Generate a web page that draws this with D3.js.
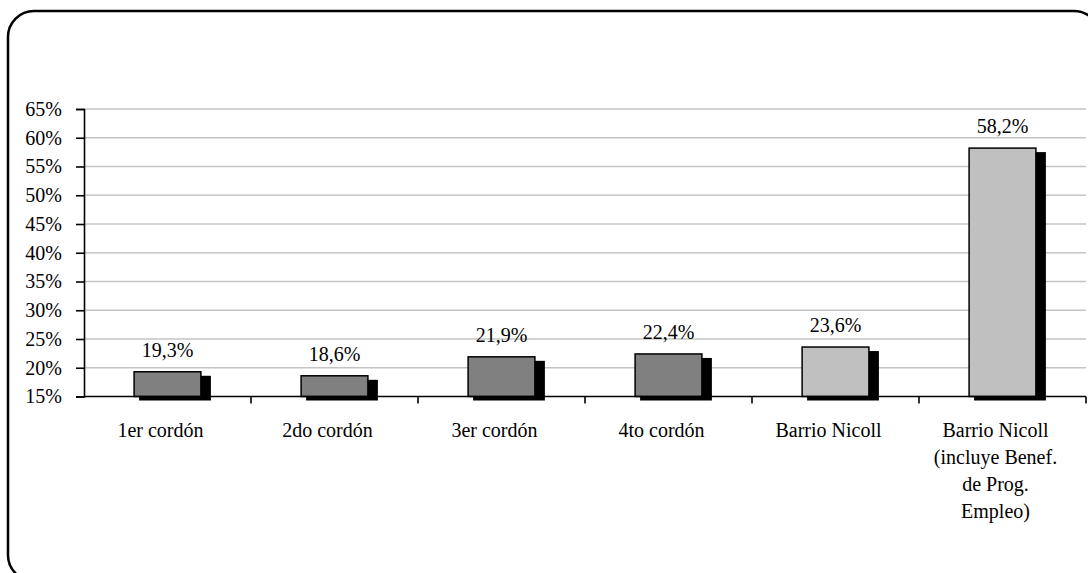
<!DOCTYPE html>
<html>
<head>
<meta charset="utf-8">
<script src="https://cdn.jsdelivr.net/npm/d3@7"></script>
<style>
  html, body { margin: 0; padding: 0; background: #fff; }
  svg { display: block; }
  text { font-family: "Liberation Serif", "Times New Roman", serif; fill: #000; }
</style>
</head>
<body>
<svg id="chart" width="1088" height="573"></svg>
<script>
const categories = [
  ["1er cordón"],
  ["2do cordón"],
  ["3er cordón"],
  ["4to cordón"],
  ["Barrio Nicoll"],
  ["Barrio Nicoll", "(incluye Benef.", "de Prog.", "Empleo)"]
];
const values = [19.3, 18.6, 21.9, 22.4, 23.6, 58.2];
const groups = ["cordón", "cordón", "cordón", "cordón", "Nicoll", "Nicoll"];
const yTicks = [15, 20, 25, 30, 35, 40, 45, 50, 55, 60, 65];

const svg = d3.select("#chart");
const W = 1088, H = 573;
const x0 = 84, x1 = 1086, yTop = 109, yBot = 396.5;

// outer rounded frame
svg.append("rect")
  .attr("x", 8).attr("y", 11)
  .attr("width", 1092).attr("height", 570)
  .attr("rx", 26).attr("ry", 26)
  .attr("fill", "none").attr("stroke", "#000").attr("stroke-width", 2.5);

const keys = categories.map((c, i) => i);
const x = d3.scaleBand().domain(keys).range([x0, x1]).paddingInner(0.6).paddingOuter(0.3);
const y = d3.scaleLinear().domain([15, 65]).range([yBot, yTop]);
const color = d3.scaleOrdinal().domain(["cordón", "Nicoll"]).range(["#808080", "#c0c0c0"]);

// gridlines
svg.append("g").selectAll("line").data(yTicks.filter(t => t > 15)).join("line")
  .attr("x1", x0).attr("x2", x1)
  .attr("y1", d => y(d)).attr("y2", d => y(d))
  .attr("stroke", "#c4c4c4").attr("stroke-width", 1.6);

// y axis
const yAxis = d3.axisLeft(y).tickValues(yTicks).tickSize(8).tickPadding(14)
  .tickFormat(d => d + "%");
const gy = svg.append("g").attr("transform", `translate(${x0},0)`).call(yAxis);
gy.select(".domain").attr("stroke", "#000").attr("stroke-width", 1.6);
gy.selectAll(".tick line").attr("stroke", "#000").attr("stroke-width", 1.6);
gy.selectAll(".tick text").attr("font-size", 20)
  .attr("font-family", "Liberation Serif, serif").attr("fill", "#000");

// shadows
svg.append("g").selectAll("rect").data(values).join("rect")
  .attr("x", (d, i) => x(i) + 5)
  .attr("y", d => y(d) + 4)
  .attr("width", x.bandwidth() + 5)
  .attr("height", d => y(15) - y(d))
  .attr("fill", "#000");

// bars
svg.append("g").selectAll("rect").data(values).join("rect")
  .attr("x", (d, i) => x(i))
  .attr("y", d => y(d))
  .attr("width", x.bandwidth())
  .attr("height", d => y(15) - y(d))
  .attr("fill", (d, i) => color(groups[i]))
  .attr("stroke", "#000").attr("stroke-width", 1.5);

// x axis line and category boundary ticks
svg.append("line").attr("x1", x0).attr("x2", x1).attr("y1", yBot).attr("y2", yBot)
  .attr("stroke", "#000").attr("stroke-width", 1.6);
const step = x.step();
svg.append("g").selectAll("line").data(keys.map(k => k + 1)).join("line")
  .attr("x1", k => x0 + k * step).attr("x2", k => x0 + k * step)
  .attr("y1", yBot).attr("y2", yBot + 7)
  .attr("stroke", "#000").attr("stroke-width", 1.6);

// value labels
const fmt = d => d3.format(".1f")(d).replace(".", ",") + "%";
svg.append("g").selectAll("text").data(values).join("text")
  .attr("x", (d, i) => x(i) + x.bandwidth() / 2)
  .attr("y", d => y(d) - 15)
  .attr("text-anchor", "middle")
  .attr("font-size", 20)
  .text(fmt);

// category labels
const cl = svg.append("g").selectAll("text").data(categories).join("text")
  .attr("text-anchor", "middle")
  .attr("font-size", 20)
  .attr("y", 436.5);
cl.each(function(lines, i) {
  const cx = x(i) + x.bandwidth() / 2 - 7;
  d3.select(this).selectAll("tspan").data(lines).join("tspan")
    .attr("x", cx)
    .attr("dy", (l, j) => j === 0 ? 0 : 27)
    .text(l => l);
});
</script>
</body>
</html>
